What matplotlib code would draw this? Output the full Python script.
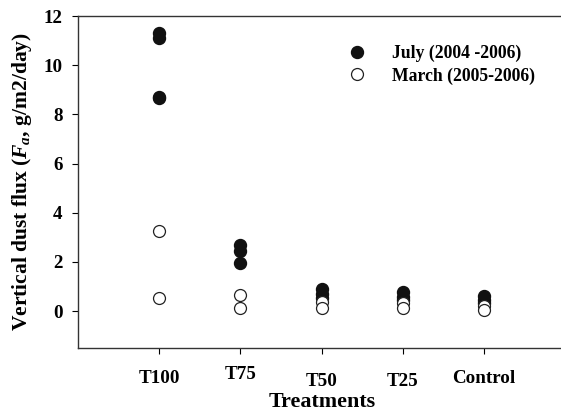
import numpy as np
import matplotlib
matplotlib.use("Agg")
import matplotlib.pyplot as plt
from matplotlib.transforms import ScaledTranslation

plt.rcParams['font.family'] = ['Liberation Serif', 'DejaVu Serif']
plt.rcParams['font.weight'] = 'bold'
plt.rcParams['mathtext.fontset'] = 'custom'
plt.rcParams['mathtext.it'] = 'Liberation Serif:italic:bold'
plt.rcParams['mathtext.rm'] = 'Liberation Serif:bold'

# treatment categories
treatments = ["T100", "T75", "T50", "T25", "Control"]

# July (2004-2006) fluxes per treatment
july = [
    [11.3, 11.1, 8.7, 8.68],
    [2.7, 2.45, 1.95],
    [0.88, 0.7, 0.55],
    [0.78, 0.57, 0.45],
    [0.6, 0.45, 0.35],
]
# March (2005-2006) fluxes per treatment
march = [
    [3.25, 0.55],
    [0.65, 0.13],
    [0.38, 0.12],
    [0.35, 0.12],
    [0.2, 0.05],
]

fig = plt.figure(figsize=(5.61, 4.18), dpi=100)
ax = fig.add_axes([0.139, 0.1675, 0.869, 0.794])

for i, vals in enumerate(july):
    ax.plot([i + 1] * len(vals), vals, 'o', color='#111111', markersize=8.6,
            markeredgecolor='#111111', label="July (2004 -2006)" if i == 0 else None)
for i, vals in enumerate(march):
    ax.plot([i + 1] * len(vals), vals, 'o', color='white', markersize=8.6,
            markeredgecolor='#222222', markeredgewidth=0.9,
            label="March (2005-2006)" if i == 0 else None)

ax.set_xlim(0, 6)
ax.set_ylim(-1.5, 12)
ax.set_xticks(range(1, 6))
ax.set_xticklabels(treatments)
ax.set_yticks(range(0, 13, 2))
ax.tick_params(direction='out', length=4, width=0.8, labelsize=13.7)
ax.tick_params(axis='x', pad=12)
ax.tick_params(axis='y', pad=7)
# slight vertical stagger of the category labels, as in the original
for lab, dy in zip(ax.get_xticklabels(), [0, 4, -3, -3, 0]):
    lab.set_transform(lab.get_transform() + ScaledTranslation(0, dy / 100, fig.dpi_scale_trans))
for s in ['left', 'top', 'bottom']:
    ax.spines[s].set_linewidth(1.0)
    ax.spines[s].set_color('#333333')
ax.spines['right'].set_visible(False)

ax.set_xlabel("Treatments", fontsize=15.8, fontweight='bold', labelpad=1)
ax.set_ylabel(r"Vertical dust flux ($F_a$, g/m2/day)", fontsize=15.5,
              fontweight='bold', labelpad=7)

ax.legend(loc='upper left', bbox_to_anchor=(0.522, 0.935), frameon=False,
          fontsize=12.7, handletextpad=1.0, labelspacing=0.3, borderaxespad=0)

fig.savefig("out.png", dpi=100)
